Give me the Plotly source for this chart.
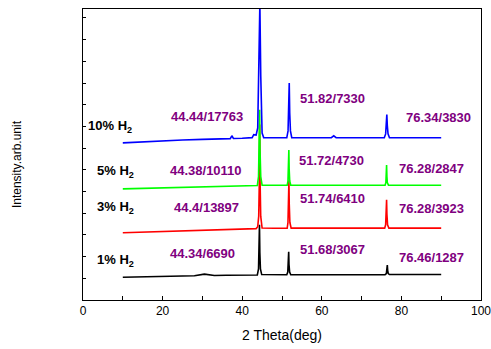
import plotly.graph_objects as go

# ---------------- data ----------------
# 1% H2 (black)
x_1 = [10, 15, 20, 25, 28, 30.5, 33, 36, 40, 43.8, 44.1, 44.25, 44.34, 44.43, 44.58, 44.9,
       48, 51.2, 51.45, 51.6, 51.68, 51.76, 51.92, 52.2, 56, 62, 68, 74, 75.9, 76.22, 76.37,
       76.46, 76.55, 76.7, 77.0, 82, 86, 90]
y_1 = [3046, 3100, 3140, 3200, 3250, 3450, 3280, 3300, 3330, 3350, 4150, 6360, 10040, 6360, 4150, 3400,
       3370, 3370, 3740, 4750, 6437, 4750, 3740, 3380, 3380, 3390, 3390, 3385, 3385, 3530, 3960,
       4667, 3960, 3530, 3400, 3400, 3405, 3407]

# 3% H2 (red)
x_3 = [10, 15, 20, 25, 30, 35, 40, 43.5, 43.9, 44.15, 44.31, 44.4, 44.49, 44.65, 45.0,
       48, 51.3, 51.5, 51.66, 51.74, 51.82, 51.98, 52.3, 56, 62, 68, 74, 75.8, 76.04, 76.2,
       76.28, 76.36, 76.52, 76.85, 82, 86, 90]
y_3 = [8978, 9060, 9150, 9250, 9330, 9400, 9480, 9540, 9800, 11200, 16000, 23450, 16000, 11200, 9620,
       9590, 9590, 10350, 12850, 16000, 12850, 10350, 9600, 9590, 9595, 9600, 9600, 9600, 10050, 11500,
       13400, 11500, 10050, 9610, 9600, 9600, 9600]

# 5% H2 (green)
x_5 = [10, 15, 20, 25, 30, 35, 40, 43.8, 44.1, 44.28, 44.38, 44.48, 44.66, 45.0,
       48, 51.3, 51.5, 51.64, 51.72, 51.80, 51.94, 52.2, 56, 62, 68, 74, 75.9, 76.1, 76.2,
       76.28, 76.36, 76.46, 76.75, 82, 86, 90]
y_5 = [14856, 14930, 15000, 15060, 15120, 15190, 15250, 15300, 16500, 20000, 25410, 20000, 16500, 15340,
       15330, 15330, 15900, 17500, 20060, 17500, 15900, 15340, 15330, 15335, 15335, 15340, 15340, 15700, 16500,
       18050, 16500, 15700, 15345, 15340, 15340, 15340]

# 10% H2 (blue)
x_10 = [10, 15, 20, 25, 30, 35, 37.0, 37.4, 37.8, 40, 42.5, 42.9, 43.5, 43.9, 44.22, 44.44, 44.66, 45.0, 45.4,
        48, 51.2, 51.52, 51.7, 51.82, 51.94, 52.12, 52.45, 56, 62.4, 63.0, 63.6, 68, 74, 75.7,
        76.04, 76.22, 76.34, 76.46, 76.64, 77.0, 82, 86, 90]
y_10 = [21002, 21150, 21280, 21380, 21470, 21540, 21560, 21950, 21580, 21620, 21700, 22100, 22050, 23000, 30000, 39606, 30000, 22300, 21700,
        21680, 21680, 22600, 25000, 29000, 25000, 22600, 21700, 21680, 21690, 21940, 21690, 21680, 21680, 21680,
        22200, 23300, 24800, 23300, 22200, 21690, 21685, 21690, 21690]

series_names = ["1% H2", "3% H2", "5% H2", "10% H2"]
series_x = [x_1, x_3, x_5, x_10]
series_y = [y_1, y_3, y_5, y_10]
series_colors = ["#000000", "#ff0000", "#00ff00", "#0000ff"]

sample_labels = ["1% H<sub>2</sub>", "3% H<sub>2</sub>", "5% H<sub>2</sub>", "10% H<sub>2</sub>"]
peak_labels = [
    ["44.34/6690", "51.68/3067", "76.46/1287"],
    ["44.4/13897", "51.74/6410", "76.28/3923"],
    ["44.38/10110", "51.72/4730", "76.28/2847"],
    ["44.44/17763", "51.82/7330", "76.34/3830"],
]

x_ticks = [0, 20, 40, 60, 80, 100]

# ---------------- layout / positions ----------------
sample_label_pos = [(2.95, 5280), (2.95, 12360), (2.95, 17210), (0.85, 23180)]
peak_label_pos = [
    [(30.0, 6210), (62.8, 6750), (87.6, 5680)],
    [(31.0, 12360), (62.7, 13560), (87.6, 12220)],
    [(30.9, 17300), (62.45, 18640), (87.6, 17570)],
    [(31.1, 24516), (62.8, 26920), (89.3, 24382)],
]

FONT = "Arial, 'Liberation Sans', sans-serif"
PURPLE = "#800080"

fig = go.Figure()
for name, xs, ys, col in zip(series_names, series_x, series_y, series_colors):
    fig.add_trace(go.Scatter(x=xs, y=ys, mode="lines", name=name,
                             line=dict(color=col, width=1.6), showlegend=False,
                             hoverinfo="skip"))

annotations = []
for lab, (ax, ay) in zip(sample_labels, sample_label_pos):
    annotations.append(dict(x=ax, y=ay, xref="x", yref="y", text=lab, showarrow=False,
                            xanchor="left", yanchor="middle",
                            font=dict(family=FONT, size=13, color="black", weight="bold")))
for labs, poss in zip(peak_labels, peak_label_pos):
    for lab, (ax, ay) in zip(labs, poss):
        annotations.append(dict(x=ax, y=ay, xref="x", yref="y", text=lab, showarrow=False,
                                xanchor="center", yanchor="middle",
                                font=dict(family=FONT, size=13, color=PURPLE, weight="bold")))
annotations.append(dict(x=-0.164, y=0.466, xref="paper", yref="paper", text="Intensity.arb.unit",
                        textangle=-90, showarrow=False, xanchor="center", yanchor="middle",
                        font=dict(family=FONT, size=12, color="black")))
annotations.append(dict(x=0.5, y=-0.1186, xref="paper", yref="paper", text="2 Theta(deg)",
                        showarrow=False, xanchor="center", yanchor="middle",
                        font=dict(family=FONT, size=14, color="black")))

fig.update_layout(
    template="none",
    width=491, height=349,
    margin=dict(l=83, r=10, t=9, b=49, autoexpand=False),
    paper_bgcolor="white", plot_bgcolor="white",
    font=dict(family=FONT, size=12, color="black"),
    annotations=annotations,
    hovermode=False,
    xaxis=dict(range=[0, 100], tickvals=x_ticks, ticks="inside", ticklen=4, tickcolor="black",
               minor=dict(dtick=10, ticks="inside", ticklen=4, tickcolor="black"),
               showline=True, linecolor="black", linewidth=1, mirror=True,
               showgrid=False, zeroline=False, tickfont=dict(size=12),
               ticklabeloverflow="allow", automargin=False),
    yaxis=dict(range=[0, 38890], dtick=2900, ticks="inside", ticklen=3, tickcolor="black",
               showticklabels=False, showline=True, linecolor="black", linewidth=1, mirror=True,
               showgrid=False, zeroline=False, automargin=False),
)

fig.write_html("out.html", config={"displayModeBar": False},
               post_script="document.body.style.margin='0';document.body.style.overflow='hidden';")
